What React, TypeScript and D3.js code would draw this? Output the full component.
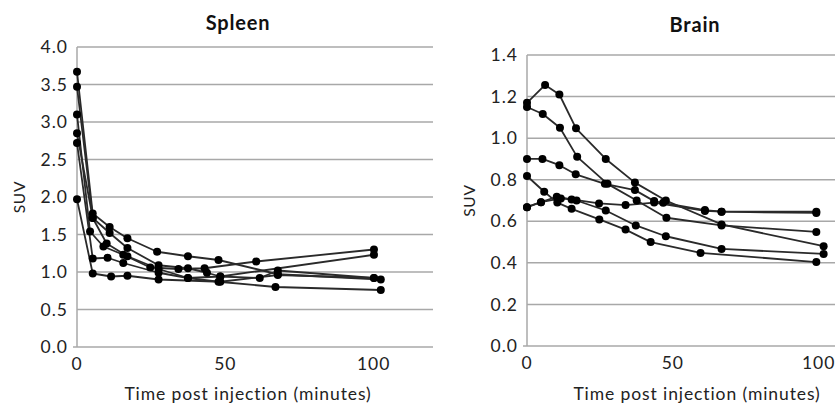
import React from 'react'
import * as d3 from 'd3'

// [minutes, SUV] per subject
const spleenSeries: [number, number][][] = [
    [[0, 3.67], [5.3, 1.78], [11, 1.60], [17, 1.45], [27, 1.27], [37.4, 1.21], [47.7, 1.16], [67.7, 0.97], [102.4, 0.90]],
    [[0, 3.47], [5.3, 1.72], [11, 1.52], [17, 1.32], [27.5, 1.09], [37.4, 1.05], [43.8, 0.99], [48.3, 0.94], [100.1, 1.23]],
    [[0, 3.10], [4.4, 1.54], [8.9, 1.34], [15.6, 1.23], [24.7, 1.06], [34.2, 1.04], [43, 1.05], [60.4, 1.14], [100.1, 1.30]],
    [[0, 2.85], [5.3, 1.72], [10, 1.38], [17, 1.21], [27.5, 1.04], [37.4, 0.92], [47.7, 0.87], [66.9, 0.80], [102.4, 0.76]],
    [[0, 2.72], [5.3, 1.18], [10.3, 1.19], [15.6, 1.12], [27.5, 0.99], [37.4, 0.92], [48.3, 0.94], [61.6, 0.92], [67.7, 1.02], [100.1, 0.92]],
    [[0, 1.97], [5.3, 0.98], [11.5, 0.94], [17, 0.95], [27.5, 0.90], [48.3, 0.87], [67.7, 0.96], [100.1, 0.92]],
];

const brainSeries: [number, number][][] = [
    [[0, 1.17], [6.2, 1.256], [11.1, 1.21], [16.8, 1.047], [27, 0.90], [37, 0.786], [47.6, 0.70], [66.7, 0.585], [101.7, 0.48]],
    [[0, 1.15], [5.4, 1.116], [11.3, 1.05], [17.2, 0.91], [27.6, 0.78], [37.6, 0.70], [47.8, 0.617], [66.7, 0.58], [99.2, 0.549]],
    [[0, 0.90], [5.3, 0.90], [11.1, 0.87], [16.7, 0.826], [26.7, 0.78], [37, 0.75], [43.6, 0.697], [46.7, 0.689], [61, 0.654], [66.7, 0.646], [99.2, 0.646]],
    [[0, 0.668], [4.8, 0.692], [11.6, 0.71], [15.3, 0.705], [24.7, 0.686], [33.8, 0.678], [43.6, 0.69], [61, 0.65], [66.7, 0.646], [99.2, 0.64]],
    [[0, 0.818], [5.9, 0.742], [10.4, 0.69], [15.3, 0.66], [24.8, 0.609], [33.8, 0.56], [42.4, 0.50], [59.5, 0.448], [99.2, 0.404]],
    [[0, 0.668], [4.8, 0.692], [10.2, 0.718], [17, 0.70], [27, 0.652], [37.3, 0.58], [47.6, 0.528], [66.7, 0.467], [101.7, 0.443]],
];

const spleenYTicks = [0, 0.5, 1, 1.5, 2, 2.5, 3, 3.5, 4];
const brainYTicks = [0, 0.2, 0.4, 0.6, 0.8, 1.0, 1.2, 1.4];
const xTicks = [0, 50, 100];

const font = 'Lato, "Open Sans", sans-serif';

type PanelProps = {
    title: string;
    series: [number, number][][];
    yTicks: number[];
    yMax: number;
    left: number;
    right: number;
    top: number;
    bottom: number;
    titleX: number;
    titleY: number;
    suvX: number;
    labelX: number;
};

function Panel(p: PanelProps) {
    const x = d3.scaleLinear().domain([0, 120]).range([p.left, p.right]);
    const y = d3.scaleLinear().domain([0, p.yMax]).range([p.bottom, p.top]);
    const line = d3.line<[number, number]>().x(d => x(d[0])).y(d => y(d[1]));

    return (
        <g fontFamily={font}>
            <text x={p.titleX} y={p.titleY} textAnchor="middle" fontSize={20} fontWeight="bold"
                  letterSpacing={0.8} fill="#111">{p.title}</text>
            {p.yTicks.map(t => (
                <g key={t}>
                    {t > 0 && <line x1={p.left} x2={p.right} y1={y(t)} y2={y(t)} stroke="#a8a8a8" strokeWidth={1.5}/>}
                    <text x={p.left - 9} y={y(t)} dy="0.35em" textAnchor="end" fontSize={17.5}
                          letterSpacing={1} fill="#222">{t.toFixed(1)}</text>
                </g>
            ))}
            <line x1={p.left} x2={p.left} y1={p.top} y2={p.bottom} stroke="#a8a8a8" strokeWidth={1.5}/>
            <line x1={p.left - 4} x2={p.right} y1={p.bottom} y2={p.bottom} stroke="#a8a8a8" strokeWidth={1.5}/>
            {xTicks.map(t => (
                <text key={t} x={x(t)} y={p.bottom + 23} textAnchor="middle" fontSize={17.5}
                      letterSpacing={1} fill="#222">{t}</text>
            ))}
            <text transform={`translate(${p.suvX},${(p.top + p.bottom) / 2}) rotate(-90)`} textAnchor="middle"
                  dy="0.35em" fontSize={15.5} letterSpacing={0.8} fill="#222">SUV</text>
            <text x={p.labelX} y={400} textAnchor="middle" fontSize={17.5} letterSpacing={0.9} fill="#222">
                Time post injection (minutes)
            </text>
            <g fill="none" stroke="#2a2a2a" strokeWidth={1.8} strokeLinejoin="round">
                {p.series.map((s, i) => <path key={i} d={line(s) || ''}/>)}
            </g>
            <g fill="#000">
                {p.series.map((s, i) => s.map((d, j) => (
                    <circle key={`${i}-${j}`} cx={x(d[0])} cy={y(d[1])} r={4}/>
                )))}
            </g>
        </g>
    );
}

export default function App() {
    return (
        <svg width={835} height={406} style={{position: 'absolute', left: 0, top: 0, background: '#fff'}}>
            <rect width={835} height={406} fill="#fff"/>
            <Panel title="Spleen" series={spleenSeries} yTicks={spleenYTicks} yMax={4}
                   left={77} right={433} top={47} bottom={347} titleX={238} titleY={30} suvX={20} labelX={248}/>
            <Panel title="Brain" series={brainSeries} yTicks={brainYTicks} yMax={1.4}
                   left={527} right={877} top={55} bottom={346} titleX={695} titleY={32} suvX={470} labelX={697}/>
        </svg>
    );
}
